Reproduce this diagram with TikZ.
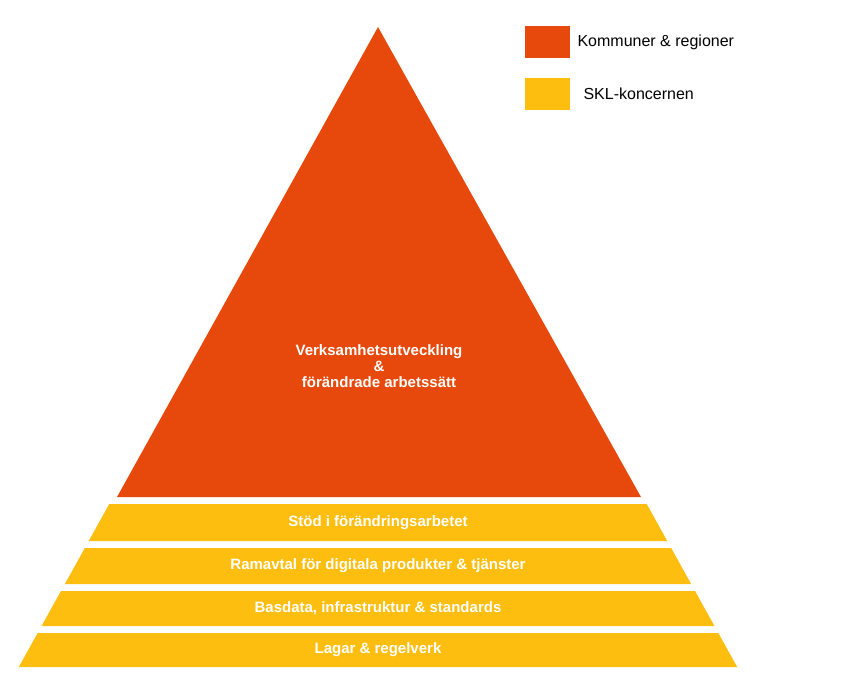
\documentclass[tikz,border=0pt]{standalone}
\usepackage{fontspec}
\setmainfont{Liberation Sans}
\definecolor{org}{HTML}{E6490B}
\definecolor{yel}{HTML}{FDBE10}
\begin{document}
\begin{tikzpicture}[x=1pt,y=-1pt,
  lbl/.style={font=\bfseries\fontsize{15}{18}\selectfont,text=white,align=center},
  leg/.style={font=\fontsize{16}{19}\selectfont,anchor=west}]
\useasboundingbox (0,0) rectangle (845,688);
\def\L#1{\fpeval{374-0.555*(#1-27)}}
\def\R#1{\fpeval{382+0.555*(#1-27)}}
\fill[org] (378,27) -- (641,497) -- (117,497) -- cycle;
\foreach \t/\b/\n in {504/541/a,548/584/b,591/626/c,633/667/d}{
  \fill[yel] (\L{\t},\t) -- (\R{\t},\t) -- (\R{\b},\b) -- (\L{\b},\b) -- cycle;
  \coordinate (\n) at (378,{(\t+\b)/2});
}
\node[lbl] (top) at (379,366) {Verksamhetsutveckling\\[-2pt]\&\\[-2pt]förändrade arbetssätt};
\node[lbl] (ta) at (a) {Stöd i förändringsarbetet};
\node[lbl] (tb) at (b) {Ramavtal för digitala produkter \& tjänster};
\node[lbl] (tc) at (c) {Basdata, infrastruktur \& standards};
\node[lbl] (td) at (d) {Lagar \& regelverk};
\fill[org] (525,26) rectangle (570,58);
\fill[yel] (525,78) rectangle (570,110);
\node[leg] (l1) at (574,42) {Kommuner \& regioner};
\node[leg] (l2) at (580,94) {SKL-koncernen};
\end{tikzpicture}
\end{document}
